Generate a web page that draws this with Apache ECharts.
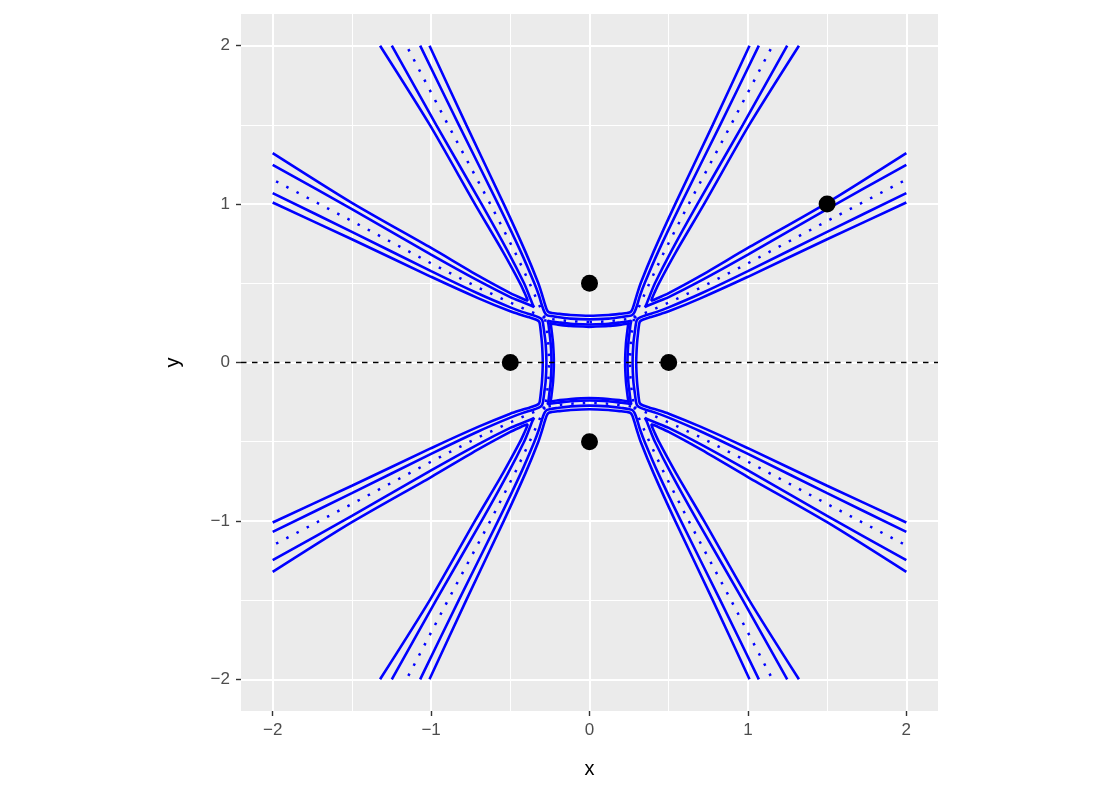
<!DOCTYPE html>
<html>
<head>
<meta charset="utf-8">
<script src="https://cdn.jsdelivr.net/npm/echarts@6.0.0/dist/echarts.min.js"></script>
<style>
  html, body { margin: 0; padding: 0; background: #fff; }
  #chart { width: 1100px; height: 800px; }
</style>
</head>
<body>
<div id="chart"></div>
<script>
// tick values
const majorTicks = [-2, -1, 0, 1, 2]
const minorTicks = [-1.5, -0.5, 0.5, 1.5]

// black points
const points = [[0, 0.5], [-0.5, 0], [0.5, 0], [0, -0.5], [1.5, 1]]
const hlineY = 0

// U-shaped contours (outer / inner)
const uTopOuter = [[-1.01,2],[-0.778,1.5],[-0.541,1],[-0.405,0.7],[-0.323,0.5],[-0.3,0.43],[-0.285,0.38],[-0.27,0.335],[-0.258,0.318],[-0.24,0.313],[-0.2,0.308],[-0.12,0.3],[0,0.295],[0.12,0.3],[0.2,0.308],[0.24,0.313],[0.258,0.318],[0.27,0.335],[0.285,0.38],[0.3,0.43],[0.323,0.5],[0.405,0.7],[0.541,1],[0.778,1.5],[1.01,2]]
const uTopInner = [[-1.069,2],[-0.825,1.5],[-0.577,1],[-0.434,0.7],[-0.348,0.5],[-0.318,0.42],[-0.3,0.36],[-0.285,0.32],[-0.27,0.3],[-0.245,0.293],[-0.2,0.287],[-0.12,0.277],[0,0.272],[0.12,0.277],[0.2,0.287],[0.245,0.293],[0.27,0.3],[0.285,0.32],[0.3,0.36],[0.318,0.42],[0.348,0.5],[0.434,0.7],[0.577,1],[0.825,1.5],[1.069,2]]
const uBottomOuter = [[-1.01,-2],[-0.778,-1.5],[-0.541,-1],[-0.405,-0.7],[-0.323,-0.5],[-0.3,-0.43],[-0.285,-0.38],[-0.27,-0.335],[-0.258,-0.318],[-0.24,-0.313],[-0.2,-0.308],[-0.12,-0.3],[0,-0.295],[0.12,-0.3],[0.2,-0.308],[0.24,-0.313],[0.258,-0.318],[0.27,-0.335],[0.285,-0.38],[0.3,-0.43],[0.323,-0.5],[0.405,-0.7],[0.541,-1],[0.778,-1.5],[1.01,-2]]
const uBottomInner = [[-1.069,-2],[-0.825,-1.5],[-0.577,-1],[-0.434,-0.7],[-0.348,-0.5],[-0.318,-0.42],[-0.3,-0.36],[-0.285,-0.32],[-0.27,-0.3],[-0.245,-0.293],[-0.2,-0.287],[-0.12,-0.277],[0,-0.272],[0.12,-0.277],[0.2,-0.287],[0.245,-0.293],[0.27,-0.3],[0.285,-0.32],[0.3,-0.36],[0.318,-0.42],[0.348,-0.5],[0.434,-0.7],[0.577,-1],[0.825,-1.5],[1.069,-2]]
const uLeftOuter = [[-2,-1.01],[-1.5,-0.778],[-1,-0.541],[-0.7,-0.405],[-0.5,-0.323],[-0.43,-0.3],[-0.38,-0.285],[-0.335,-0.27],[-0.318,-0.258],[-0.313,-0.24],[-0.308,-0.2],[-0.3,-0.12],[-0.295,0],[-0.3,0.12],[-0.308,0.2],[-0.313,0.24],[-0.318,0.258],[-0.335,0.27],[-0.38,0.285],[-0.43,0.3],[-0.5,0.323],[-0.7,0.405],[-1,0.541],[-1.5,0.778],[-2,1.01]]
const uLeftInner = [[-2,-1.069],[-1.5,-0.825],[-1,-0.577],[-0.7,-0.434],[-0.5,-0.348],[-0.42,-0.318],[-0.36,-0.3],[-0.32,-0.285],[-0.3,-0.27],[-0.293,-0.245],[-0.287,-0.2],[-0.277,-0.12],[-0.272,0],[-0.277,0.12],[-0.287,0.2],[-0.293,0.245],[-0.3,0.27],[-0.32,0.285],[-0.36,0.3],[-0.42,0.318],[-0.5,0.348],[-0.7,0.434],[-1,0.577],[-1.5,0.825],[-2,1.069]]
const uRightOuter = [[2,-1.01],[1.5,-0.778],[1,-0.541],[0.7,-0.405],[0.5,-0.323],[0.43,-0.3],[0.38,-0.285],[0.335,-0.27],[0.318,-0.258],[0.313,-0.24],[0.308,-0.2],[0.3,-0.12],[0.295,0],[0.3,0.12],[0.308,0.2],[0.313,0.24],[0.318,0.258],[0.335,0.27],[0.38,0.285],[0.43,0.3],[0.5,0.323],[0.7,0.405],[1,0.541],[1.5,0.778],[2,1.01]]
const uRightInner = [[2,-1.069],[1.5,-0.825],[1,-0.577],[0.7,-0.434],[0.5,-0.348],[0.42,-0.318],[0.36,-0.3],[0.32,-0.285],[0.3,-0.27],[0.293,-0.245],[0.287,-0.2],[0.277,-0.12],[0.272,0],[0.277,0.12],[0.287,0.2],[0.293,0.245],[0.3,0.27],[0.32,0.285],[0.36,0.3],[0.42,0.318],[0.5,0.348],[0.7,0.434],[1,0.577],[1.5,0.825],[2,1.069]]

// V-shaped contours in each quadrant
const vUpRightInner = [[1.248,2],[0.968,1.5],[0.681,1],[0.515,0.7],[0.413,0.5],[0.38,0.42],[0.36,0.37],[0.35,0.35],[0.37,0.36],[0.42,0.38],[0.5,0.413],[0.7,0.515],[1,0.681],[1.5,0.968],[2,1.248]]
const vUpRightOuter = [[1.322,2],[1.008,1.5],[0.723,1],[0.547,0.7],[0.438,0.5],[0.41,0.44],[0.395,0.405],[0.39,0.39],[0.405,0.395],[0.44,0.41],[0.5,0.438],[0.7,0.547],[1,0.723],[1.5,1.008],[2,1.322]]
const vUpLeftInner = [[-1.248,2],[-0.968,1.5],[-0.681,1],[-0.515,0.7],[-0.413,0.5],[-0.38,0.42],[-0.36,0.37],[-0.35,0.35],[-0.37,0.36],[-0.42,0.38],[-0.5,0.413],[-0.7,0.515],[-1,0.681],[-1.5,0.968],[-2,1.248]]
const vUpLeftOuter = [[-1.322,2],[-1.008,1.5],[-0.723,1],[-0.547,0.7],[-0.438,0.5],[-0.41,0.44],[-0.395,0.405],[-0.39,0.39],[-0.405,0.395],[-0.44,0.41],[-0.5,0.438],[-0.7,0.547],[-1,0.723],[-1.5,1.008],[-2,1.322]]
const vLowLeftInner = [[-1.248,-2],[-0.968,-1.5],[-0.681,-1],[-0.515,-0.7],[-0.413,-0.5],[-0.38,-0.42],[-0.36,-0.37],[-0.35,-0.35],[-0.37,-0.36],[-0.42,-0.38],[-0.5,-0.413],[-0.7,-0.515],[-1,-0.681],[-1.5,-0.968],[-2,-1.248]]
const vLowLeftOuter = [[-1.322,-2],[-1.008,-1.5],[-0.723,-1],[-0.547,-0.7],[-0.438,-0.5],[-0.41,-0.44],[-0.395,-0.405],[-0.39,-0.39],[-0.405,-0.395],[-0.44,-0.41],[-0.5,-0.438],[-0.7,-0.547],[-1,-0.723],[-1.5,-1.008],[-2,-1.322]]
const vLowRightInner = [[1.248,-2],[0.968,-1.5],[0.681,-1],[0.515,-0.7],[0.413,-0.5],[0.38,-0.42],[0.36,-0.37],[0.35,-0.35],[0.37,-0.36],[0.42,-0.38],[0.5,-0.413],[0.7,-0.515],[1,-0.681],[1.5,-0.968],[2,-1.248]]
const vLowRightOuter = [[1.322,-2],[1.008,-1.5],[0.723,-1],[0.547,-0.7],[0.438,-0.5],[0.41,-0.44],[0.395,-0.405],[0.39,-0.39],[0.405,-0.395],[0.44,-0.41],[0.5,-0.438],[0.7,-0.547],[1,-0.723],[1.5,-1.008],[2,-1.322]]

// closed loops inside the central square
const loopInner = [[0,0.24],[0.12,0.245],[0.2,0.254],[0.24,0.259],[0.264,0.264],[0.259,0.24],[0.254,0.2],[0.245,0.12],[0.24,0],[0.245,-0.12],[0.254,-0.2],[0.259,-0.24],[0.264,-0.264],[0.24,-0.259],[0.2,-0.254],[0.12,-0.245],[0,-0.24],[-0.12,-0.245],[-0.2,-0.254],[-0.24,-0.259],[-0.264,-0.264],[-0.259,-0.24],[-0.254,-0.2],[-0.245,-0.12],[-0.24,0],[-0.245,0.12],[-0.254,0.2],[-0.259,0.24],[-0.264,0.264],[-0.24,0.259],[-0.2,0.254],[-0.12,0.245],[0,0.24]]
const loopOuter = [[0,0.225],[0.12,0.23],[0.2,0.239],[0.235,0.244],[0.252,0.252],[0.244,0.235],[0.239,0.2],[0.23,0.12],[0.225,0],[0.23,-0.12],[0.239,-0.2],[0.244,-0.235],[0.252,-0.252],[0.235,-0.244],[0.2,-0.239],[0.12,-0.23],[0,-0.225],[-0.12,-0.23],[-0.2,-0.239],[-0.235,-0.244],[-0.252,-0.252],[-0.244,-0.235],[-0.239,-0.2],[-0.23,-0.12],[-0.225,0],[-0.23,0.12],[-0.239,0.2],[-0.244,0.235],[-0.252,0.252],[-0.235,0.244],[-0.2,0.239],[-0.12,0.23],[0,0.225]]

// dotted contour through the saddles
const dotSquare = [[0,0.255],[0.12,0.26],[0.2,0.269],[0.245,0.275],[0.282,0.282],[0.275,0.245],[0.269,0.2],[0.26,0.12],[0.255,0],[0.26,-0.12],[0.269,-0.2],[0.275,-0.245],[0.282,-0.282],[0.245,-0.275],[0.2,-0.269],[0.12,-0.26],[0,-0.255],[-0.12,-0.26],[-0.2,-0.269],[-0.245,-0.275],[-0.282,-0.282],[-0.275,-0.245],[-0.269,-0.2],[-0.26,-0.12],[-0.255,0],[-0.26,0.12],[-0.269,0.2],[-0.275,0.245],[-0.282,0.282],[-0.245,0.275],[-0.2,0.269],[-0.12,0.26],[0,0.255]]
const dotUpRightSteep = [[0.282,0.282],[0.378,0.5],[0.472,0.7],[0.626,1],[0.893,1.5],[1.155,2]]
const dotUpRightFlat = [[0.282,0.282],[0.5,0.378],[0.7,0.472],[1,0.626],[1.5,0.893],[2,1.155]]
const dotUpLeftSteep = [[-0.282,0.282],[-0.378,0.5],[-0.472,0.7],[-0.626,1],[-0.893,1.5],[-1.155,2]]
const dotUpLeftFlat = [[-0.282,0.282],[-0.5,0.378],[-0.7,0.472],[-1,0.626],[-1.5,0.893],[-2,1.155]]
const dotLowLeftSteep = [[-0.282,-0.282],[-0.378,-0.5],[-0.472,-0.7],[-0.626,-1],[-0.893,-1.5],[-1.155,-2]]
const dotLowLeftFlat = [[-0.282,-0.282],[-0.5,-0.378],[-0.7,-0.472],[-1,-0.626],[-1.5,-0.893],[-2,-1.155]]
const dotLowRightSteep = [[0.282,-0.282],[0.378,-0.5],[0.472,-0.7],[0.626,-1],[0.893,-1.5],[1.155,-2]]
const dotLowRightFlat = [[0.282,-0.282],[0.5,-0.378],[0.7,-0.472],[1,-0.626],[1.5,-0.893],[2,-1.155]]

const solidCurves = [
  uTopOuter, uTopInner, uBottomOuter, uBottomInner,
  uLeftOuter, uLeftInner, uRightOuter, uRightInner,
  vUpRightInner, vUpRightOuter, vUpLeftInner, vUpLeftOuter,
  vLowLeftInner, vLowLeftOuter, vLowRightInner, vLowRightOuter,
  loopInner, loopOuter
]
const dottedCurves = [
  dotSquare, dotUpRightSteep, dotUpRightFlat, dotUpLeftSteep, dotUpLeftFlat,
  dotLowLeftSteep, dotLowLeftFlat, dotLowRightSteep, dotLowRightFlat
]

const FONT = '"Liberation Sans", Arial, sans-serif'
const BLUE = '#0000FF'
const minus = v => (v < 0 ? '\u2212' + Math.abs(v) : String(v))

const axisCommon = {
  type: 'value',
  min: -2.2,
  max: 2.2,
  nameLocation: 'middle',
  nameTextStyle: { color: '#000', fontSize: 20, fontFamily: FONT },
  axisLine: { show: false, onZero: false },
  splitLine: { show: false },
  axisTick: { show: true, length: 5, customValues: majorTicks, lineStyle: { color: '#333', width: 1.4 } },
  axisLabel: { customValues: majorTicks, color: '#4D4D4D', fontSize: 17, fontFamily: FONT, margin: 11, formatter: minus }
}

const chart = echarts.init(document.getElementById('chart'), null, { renderer: 'canvas' })

const series = []

// grid lines of the panel
series.push({
  type: 'line',
  data: [],
  z: 1,
  silent: true,
  markLine: {
    z: 1,
    silent: true,
    symbol: ['none', 'none'],
    label: { show: false },
    animation: false,
    data: [
      ...minorTicks.map(v => ({ xAxis: v, lineStyle: { color: '#fff', width: 1, type: 'solid' } })),
      ...minorTicks.map(v => ({ yAxis: v, lineStyle: { color: '#fff', width: 1, type: 'solid' } })),
      ...majorTicks.map(v => ({ xAxis: v, lineStyle: { color: '#fff', width: 2, type: 'solid' } })),
      ...majorTicks.map(v => ({ yAxis: v, lineStyle: { color: '#fff', width: 2, type: 'solid' } }))
    ]
  }
})

solidCurves.forEach(d => {
  series.push({
    type: 'line',
    data: d,
    z: 3,
    showSymbol: false,
    smooth: 0.25,
    silent: true,
    lineStyle: { color: BLUE, width: 2.6 }
  })
})

dottedCurves.forEach(d => {
  series.push({
    type: 'line',
    data: d,
    z: 3,
    showSymbol: false,
    silent: true,
    lineStyle: { color: BLUE, width: 2.5, type: [2.5, 9], cap: 'butt' }
  })
})

// dashed horizontal reference line
series.push({
  type: 'line',
  data: [],
  z: 4,
  markLine: {
    z: 4,
    silent: true,
    symbol: ['none', 'none'],
    label: { show: false },
    animation: false,
    lineStyle: { color: '#000', width: 1.4, type: [5.5, 5.5] },
    data: [{ yAxis: hlineY }]
  }
})

series.push({
  type: 'scatter',
  data: points,
  z: 5,
  symbol: 'circle',
  symbolSize: 17,
  itemStyle: { color: '#000', opacity: 1 }
})

chart.setOption({
  animation: false,
  backgroundColor: '#fff',
  grid: {
    left: 241,
    top: 14,
    width: 697,
    height: 697,
    show: true,
    backgroundColor: '#EBEBEB',
    borderWidth: 0
  },
  xAxis: { ...axisCommon, name: 'x', nameGap: 48 },
  yAxis: { ...axisCommon, name: 'y', nameGap: 58, nameRotate: 90 },
  series: series
})
</script>
</body>
</html>
